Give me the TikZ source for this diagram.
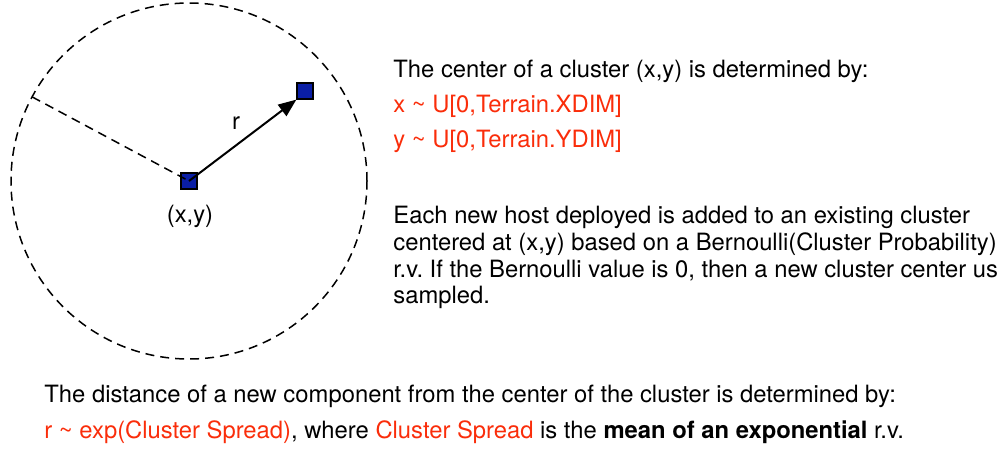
\documentclass[tikz,border=0pt]{standalone}
\usepackage{fontspec}
\setmainfont{TeX Gyre Heros}
\usetikzlibrary{arrows.meta}
\definecolor{hostblue}{RGB}{10,30,165}
\definecolor{rvred}{RGB}{250,45,10}
\frenchspacing

\begin{document}
\begin{tikzpicture}[x=0.5pt, y=-0.5pt,
        txt/.style={anchor=base west, inner sep=0pt, font=\fontsize{11.9}{13.3}\selectfont},
        lbl/.style={inner sep=0pt, font=\fontsize{11.9}{13.3}\selectfont},
        rv/.style={text=rvred},
        hostsq/.style={draw, fill=hostblue, minimum size=8pt, inner sep=0pt, line width=0.6pt},
        dashline/.style={dash pattern=on 4.5pt off 3pt, line width=0.75pt}]
        \useasboundingbox (0,0) rectangle (1007,451);
        % cluster
        \node[hostsq] (c) at (189,181) {};
        \node[hostsq] (h) at (305,91) {};
        \draw[dashline] (c.center) circle[radius=89pt];
        \path (c.center) ++(151.8:89pt) coordinate (rim);
        \draw[dashline] (rim) -- (c.center);
        \draw[-{Triangle[length=9pt, width=7pt]}, line width=1pt] (c.center) -- (h.south west);
        \node[lbl] (r) at (236,123) {r};
        \node[lbl] (xy) at (190,216) {(x,y)};
        % center of a cluster
        \node[txt] (t1) at (393,77) {The center of a cluster (x,y) is determined by:};
        \node[txt, rv] (t2) at (393,112) {x \textasciitilde{} U[0,Terrain.XDIM]};
        \node[txt, rv] (t3) at (393,147) {y \textasciitilde{} U[0,Terrain.YDIM]};
        % new hosts
        \node[txt] (p1) at (393,223) {Each new host deployed is added to an existing cluster};
        \node[txt] (p2) at (393,250) {centered at (x,y) based on a Bernoulli(Cluster Probability)};
        \node[txt] (p3) at (393,277) {r.v. If the Bernoulli value is 0, then a new cluster center us};
        \node[txt] (p4) at (393,303) {sampled.};
        % distance
        \node[txt] (b1) at (44,402) {The distance of a new component from the center of the cluster is determined by:};
        \node[txt] (b2) at (44,438) {{\color{rvred}r \textasciitilde{} exp(Cluster Spread)}, where {\color{rvred}Cluster Spread} is the \textbf{mean of an exponential} r.v.};
\end{tikzpicture}
\end{document}
